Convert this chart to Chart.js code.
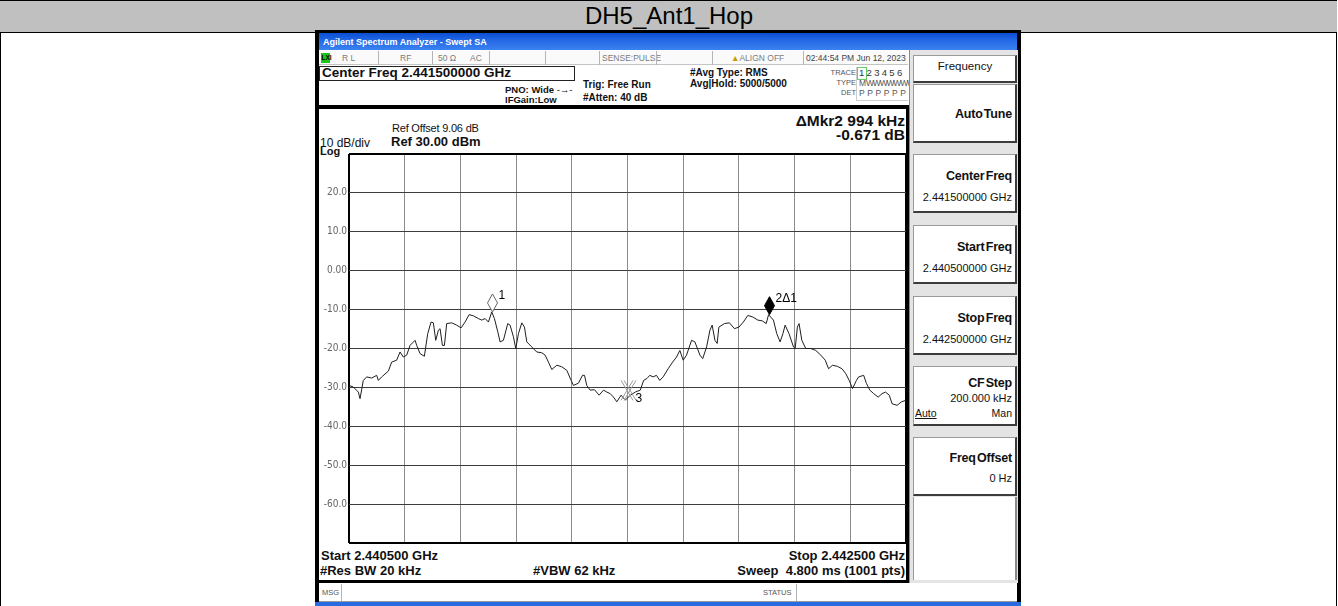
<!DOCTYPE html>
<html><head><meta charset="utf-8">
<script src="https://cdn.jsdelivr.net/npm/chart.js@4.4.1/dist/chart.umd.min.js"></script>
<style>
html,body{margin:0;padding:0;background:#fff;width:1338px;height:606px;overflow:hidden;font-family:"Liberation Sans",Arial,sans-serif;color:#111;}
.t{position:absolute;white-space:nowrap;line-height:1;}
.b{font-weight:bold;}
.r{position:absolute;}
.sk{position:absolute;left:913px;width:101px;background:#fff;border-top:1px solid #9a9a9a;border-left:1px solid #9a9a9a;border-right:2px solid #3c3c3c;border-bottom:2px solid #3c3c3c;}
.skt{position:absolute;right:3px;white-space:nowrap;line-height:1;font-weight:bold;font-size:12.5px;word-spacing:-2px;letter-spacing:-0.2px;}
.skv{position:absolute;right:3px;white-space:nowrap;line-height:1;font-size:11px;}
.sep{position:absolute;top:51px;width:1px;height:14px;background:#b4b4b4;}
.st{position:absolute;white-space:nowrap;line-height:1;font-size:8.5px;color:#7a7a7a;top:54px;}
</style>
</head><body>
<!-- outer table -->
<div class="r" style="left:0;top:0;width:1px;height:606px;background:#000"></div>
<div class="r" style="left:1336px;top:0;width:1px;height:606px;background:#000"></div>
<div class="r" style="left:0;top:0;width:1337px;height:31px;background:#c0c0c0;border-top:1px solid #000;border-bottom:1px solid #000"></div>
<div class="t" style="left:0;width:1338px;text-align:center;top:4px;font-size:24px;color:#000">DH5_Ant1_Hop</div>

<!-- analyzer window -->
<div class="r" style="left:315px;top:30px;width:706px;height:576px;background:#000"></div>
<div class="r" style="left:319px;top:33px;width:698px;height:17px;background:linear-gradient(#0a4fd4,#2a6ee8 55%,#3a82f0)"></div>
<div class="t b" style="left:323px;top:37.6px;font-size:9px;color:#fff">Agilent Spectrum Analyzer - Swept SA</div>
<div class="r" style="left:319px;top:50px;width:698px;height:552px;background:#fff"></div>
<div class="r" style="left:315px;top:602px;width:706px;height:4px;background:#2a6ae0"></div>

<!-- status row -->
<div class="r" style="left:319px;top:51px;width:589px;height:13px;background:#fafafa;border-bottom:1px solid #c4c4c4"></div>
<div class="r" style="left:321px;top:53px;width:9px;height:10px;background:#18c818"></div>
<div class="t" style="left:321.5px;top:55px;font-size:6.5px;font-weight:bold;color:#000">LXI</div>
<div class="st" style="left:342px">R L</div>
<div class="sep" style="left:378px"></div>
<div class="st" style="left:400px">RF</div>
<div class="sep" style="left:432px"></div>
<div class="st" style="left:438px">50 Ω</div>
<div class="st" style="left:470px">AC</div>
<div class="sep" style="left:489px"></div>
<div class="sep" style="left:545px"></div>
<div class="sep" style="left:599px"></div>
<div class="st" style="left:602px">SENSE:PULSE</div>
<div class="sep" style="left:656px"></div>
<div class="sep" style="left:712px"></div>
<div class="st" style="left:731px"><span style="color:#c89b00">▲</span>ALIGN OFF</div>
<div class="sep" style="left:803px"></div>
<div class="st" style="left:806px;color:#444">02:44:54 PM Jun 12, 2023</div>

<!-- header -->
<div class="r" style="left:319px;top:66px;width:254px;height:13px;border:1px solid #222"></div>
<div class="t b" style="left:322px;top:66.4px;font-size:13.5px">Center Freq 2.441500000 GHz</div>
<div class="t b" style="left:505px;top:85.3px;font-size:9.5px">PNO: Wide <span style="font-weight:normal">-→-</span></div>
<div class="t b" style="left:505px;top:95.3px;font-size:9.5px">IFGain:Low</div>
<div class="t b" style="left:583px;top:80.1px;font-size:10px">Trig: Free Run</div>
<div class="t b" style="left:583px;top:93.1px;font-size:10px">#Atten: 40 dB</div>
<div class="t b" style="left:690px;top:68.1px;font-size:10px">#Avg Type: RMS</div>
<div class="t b" style="left:690px;top:79.1px;font-size:10px">Avg|Hold: 5000/5000</div>
<div class="r" style="left:856px;top:67px;width:51px;height:33px;border-left:1px solid #ccc;border-bottom:1px solid #ccc"></div>
<div class="t" style="right:482px;top:69.3px;font-size:7.5px;color:#555">TRACE</div>
<div class="t" style="right:482px;top:79.3px;font-size:7.5px;color:#555">TYPE</div>
<div class="t" style="right:482px;top:89.3px;font-size:7.5px;color:#555">DET</div>
<div class="r" style="left:857px;top:67px;width:8px;height:11px;border:1px solid #6c6"></div>
<div class="t" style="left:859px;top:68.3px;font-size:9.5px;color:#333;letter-spacing:2.3px">123456</div>
<div class="t" style="left:859px;top:78.8px;font-size:8.5px;color:#555;letter-spacing:-1.2px">M&nbsp;WWWWWWWWWW</div>
<div class="t" style="left:859px;top:88.8px;font-size:8.5px;color:#555;letter-spacing:2.6px">PPPPPP</div>

<!-- display frame -->
<div class="r" style="left:319px;top:105px;width:590px;height:4px;background:#000"></div>
<div class="r" style="left:906px;top:105px;width:3px;height:478px;background:#000"></div>
<div class="r" style="left:319px;top:580px;width:590px;height:3px;background:#000"></div>

<div class="t" style="left:392px;top:122.6px;font-size:11px;letter-spacing:-0.2px">Ref Offset 9.06 dB</div>
<div class="t b" style="left:391px;top:135.1px;font-size:13px">Ref 30.00 dBm</div>
<div class="t" style="left:320px;top:136.6px;font-size:12px">10 dB/div</div>
<div class="t b" style="left:320px;top:145.6px;font-size:11px">Log</div>
<div class="t b" style="right:433px;top:112.5px;font-size:15.5px">ΔMkr2 994 kHz</div>
<div class="t b" style="right:433px;top:127px;font-size:15.5px">-0.671 dB</div>

<canvas id="c" width="590" height="397" style="position:absolute;left:319px;top:150px;width:590px;height:397px"></canvas>

<div class="t b" style="left:321px;top:548.6px;font-size:13px">Start 2.440500 GHz</div>
<div class="t b" style="right:433px;top:548.6px;font-size:13px">Stop 2.442500 GHz</div>
<div class="t b" style="left:320px;top:563.6px;font-size:13px">#Res BW 20 kHz</div>
<div class="t b" style="left:533px;top:563.6px;font-size:13px">#VBW 62 kHz</div>
<div class="t b" style="right:433px;top:563.6px;font-size:13px">Sweep&nbsp; 4.800 ms (1001 pts)</div>

<!-- msg row -->
<div class="r" style="left:319px;top:583px;width:698px;height:18px;background:#fff;border-bottom:1px solid #9a9a9a"></div>
<div class="t" style="left:322px;top:588.5px;font-size:7.5px;color:#555">MSG</div>
<div class="r" style="left:341px;top:584px;width:1px;height:17px;background:#b4b4b4"></div>
<div class="t" style="left:763px;top:588.5px;font-size:7.5px;color:#555">STATUS</div>
<div class="r" style="left:796px;top:584px;width:1px;height:17px;background:#b4b4b4"></div>

<!-- softkey panel -->
<div class="r" style="left:909px;top:50px;width:108px;height:533px;background:#e4e4e4;border-left:1px solid #8a8a8a"></div>
<div class="sk" style="top:55px;height:25px"></div>
<div class="t" style="left:913px;width:104px;text-align:center;top:61.4px;font-size:11.5px">Frequency</div>
<div class="sk" style="top:84px;height:56px"><div class="skt" style="top:23px">Auto Tune</div></div>
<div class="sk" style="top:154px;height:56px"><div class="skt" style="top:15px">Center Freq</div><div class="skv" style="top:36.5px">2.441500000 GHz</div></div>
<div class="sk" style="top:225px;height:56px"><div class="skt" style="top:15px">Start Freq</div><div class="skv" style="top:36.5px">2.440500000 GHz</div></div>
<div class="sk" style="top:296px;height:56px"><div class="skt" style="top:15px">Stop Freq</div><div class="skv" style="top:36.5px">2.442500000 GHz</div></div>
<div class="sk" style="top:366px;height:57px"><div class="skt" style="top:10px">CF Step</div><div class="skv" style="top:25.5px">200.000 kHz</div>
  <div class="t" style="left:1px;top:40.5px;font-size:10.5px;text-decoration:underline">Auto</div><div class="skv" style="top:40.5px;font-size:10.5px">Man</div></div>
<div class="sk" style="top:437px;height:56px"><div class="skt" style="top:14px">Freq Offset</div><div class="skv" style="top:34.5px">0 Hz</div></div>
<div class="r" style="left:913px;top:497px;width:101px;height:83px;background:#fff;border-left:1px solid #9a9a9a;border-right:2px solid #8a8a8a"></div>

<script>
// ---- data ----
const traceFreqMHz = [2440.5000,2440.5156,2440.5336,2440.5396,2440.5514,2440.5634,2440.5814,2440.5994,2440.6054,2440.6174,
2440.6414,2440.6532,2440.6712,2440.6832,2440.6952,2440.7072,2440.7192,2440.7372,2440.7432,2440.7550,
2440.7706,2440.7826,2440.7946,2440.8030,2440.8114,2440.8210,2440.8270,2440.8354,2440.8426,2440.8508,
2440.8688,2440.8868,2440.9024,2440.9168,2440.9312,2440.9468,2440.9646,2440.9766,2440.9886,2441.0006,
2441.0126,2441.0222,2441.0342,2441.0426,2441.0544,2441.0700,2441.0784,2441.0904,2441.0988,2441.1084,
2441.1204,2441.1300,2441.1384,2441.1562,2441.1742,2441.1922,2441.2042,2441.2162,2441.2282,2441.2462,
2441.2640,2441.2820,2441.2976,2441.3060,2441.3240,2441.3384,2441.3456,2441.3538,2441.3658,2441.3814,
2441.3982,2441.4138,2441.4258,2441.4378,2441.4498,2441.4616,2441.4772,2441.4920,2441.5100,2441.5280,
2441.5460,2441.5580,2441.5700,2441.5800,2441.5920,2441.6040,2441.6160,2441.6280,2441.6460,2441.6620,
2441.6760,2441.6880,2441.7000,2441.7120,2441.7300,2441.7420,2441.7600,2441.7700,2441.7840,2441.7960,
2441.8040,2441.8140,2441.8220,2441.8280,2441.8480,2441.8660,2441.8840,2441.9000,2441.9160,2441.9320,
2441.9500,2441.9680,2441.9840,2441.9980,2442.0066,2442.0240,2442.0360,2442.0480,2442.0580,2442.0660,
2442.0800,2442.0960,2442.1020,2442.1100,2442.1160,2442.1260,2442.1400,2442.1580,2442.1760,2442.1940,
2442.2100,2442.2220,2442.2360,2442.2540,2442.2700,2442.2840,2442.2960,2442.3080,2442.3220,2442.3300,
2442.3480,2442.3580,2442.3700,2442.3840,2442.4000,2442.4140,2442.4260,2442.4400,2442.4500,2442.4680,
2442.4840,2442.5000];
const traceLevelDbm = [-29.5,-29.9,-31.2,-32.9,-28.2,-27.3,-27.6,-26.9,-28.2,-27.3,
-25.8,-23.5,-23.0,-20.9,-22.2,-21.7,-19.2,-17.9,-19.2,-21.3,
-22.0,-16.2,-13.2,-13.4,-17.9,-15.3,-14.9,-19.2,-19.2,-13.6,
-13.4,-14.0,-14.7,-13.2,-11.3,-11.6,-12.3,-12.7,-12.3,-13.2,
-10.6,-12.3,-15.7,-18.3,-17.9,-13.6,-14.0,-17.0,-20.0,-16.2,
-13.4,-14.5,-18.3,-19.6,-20.9,-21.1,-21.7,-23.5,-25.4,-24.3,
-24.7,-25.6,-28.2,-29.5,-28.9,-26.9,-26.9,-29.5,-30.7,-30.6,
-32.0,-30.7,-31.2,-31.6,-32.5,-33.7,-32.0,-33.3,-32.0,-31.2,
-30.7,-28.2,-27.7,-26.9,-27.3,-26.9,-28.2,-27.3,-25.2,-23.5,
-22.2,-20.5,-23.0,-21.7,-17.9,-18.3,-21.7,-22.6,-19.6,-15.3,
-14.0,-17.9,-18.7,-14.5,-13.6,-13.4,-14.9,-14.5,-13.2,-11.5,
-11.9,-12.7,-12.9,-13.6,-11.3,-12.7,-16.2,-18.3,-16.2,-14.0,
-16.2,-19.6,-20.0,-14.5,-13.6,-17.9,-20.0,-20.0,-20.5,-21.7,
-23.0,-25.2,-24.3,-24.6,-25.2,-26.5,-28.2,-30.3,-28.2,-27.3,
-26.9,-29.0,-30.7,-31.6,-32.5,-31.6,-31.2,-32.0,-34.2,-34.6,
-33.7,-33.3];
const xGridMHz = [2440.5,2440.7,2440.9,2441.1,2441.3,2441.5,2441.7,2441.9,2442.1,2442.3,2442.5];
const yTickValues = [30,20,10,0,-10,-20,-30,-40,-50,-60,-70];
const yTickLabels = ['','20.0','10.0','0.00','-10.0','-20.0','-30.0','-40.0','-50.0','-60.0',''];
const markerFreqMHz = [2441.0126, 2442.0066, 2441.5];
const markerLevelDbm = [-10.6, -11.3, -32.3];
const markerLabels = ['1', '2Δ1', '3'];

// ---- chart ----
const markerKinds = ['open', 'filled', 'cross'];
const markerPlugin = {
  id: 'markers',
  afterDatasetsDraw(chart) {
    const ctx = chart.ctx, xs = chart.scales.x, ys = chart.scales.y;
    markerFreqMHz.forEach((f, i) => {
      const px = Math.round(xs.getPixelForValue(f)) + 0.5;
      const py = ys.getPixelForValue(markerLevelDbm[i]);
      ctx.save();
      ctx.lineWidth = 1;
      const kind = markerKinds[i];
      if (kind === 'open' || kind === 'filled') {
        ctx.beginPath();
        ctx.moveTo(px, py); ctx.lineTo(px + 5, py - 9); ctx.lineTo(px, py - 18); ctx.lineTo(px - 5, py - 9); ctx.closePath();
        if (kind === 'open') { ctx.fillStyle = '#fff'; ctx.fill(); ctx.strokeStyle = '#666'; ctx.stroke(); }
        else { ctx.fillStyle = '#000'; ctx.fill(); ctx.strokeStyle = '#000'; ctx.stroke(); }
        ctx.fillStyle = '#000';
        ctx.font = '12px "Liberation Sans", Arial';
        ctx.textBaseline = 'alphabetic';
        ctx.fillText(markerLabels[i], px + 6, py - 13);
      } else {
        ctx.strokeStyle = '#9a9a9a';
        [-1.5, 1.5].forEach(d => {
          ctx.beginPath();
          ctx.moveTo(px - 6 + d, py - 16); ctx.lineTo(px + 6 + d, py + 4);
          ctx.moveTo(px + 6 + d, py - 16); ctx.lineTo(px - 6 + d, py + 4);
          ctx.stroke();
        });
        ctx.fillStyle = '#000';
        ctx.font = '12px "Liberation Sans", Arial';
        ctx.fillText(markerLabels[i], px + 7, py + 6);
      }
      ctx.restore();
    });
  }
};

new Chart(document.getElementById('c'), {
  type: 'line',
  data: {
    datasets: [{
      data: traceFreqMHz.map((f, i) => ({ x: f, y: traceLevelDbm[i] })),
      borderColor: '#1e1e1e',
      borderWidth: 1,
      pointRadius: 0,
      tension: 0,
      fill: false
    }]
  },
  options: {
    responsive: false,
    animation: false,
    devicePixelRatio: 1,
    layout: { padding: { left: 0, right: 3, top: 4, bottom: 4 } },
    plugins: { legend: { display: false }, tooltip: { enabled: false } },
    scales: {
      x: {
        type: 'linear', min: 2440.5, max: 2442.5,
        afterBuildTicks: s => { s.ticks = xGridMHz.map(v => ({ value: v })); },
        afterFit: s => { s.height = 0; s.paddingLeft = 0; s.paddingRight = 0; },
        ticks: { display: false, autoSkip: false },
        border: { display: false },
        grid: {
          drawTicks: false,
          color: c => (c.index === 0 || c.index === xGridMHz.length - 1) ? '#000' : '#8c8c8c',
          lineWidth: c => (c.index === 0 || c.index === xGridMHz.length - 1) ? 2 : 1
        }
      },
      y: {
        type: 'linear', min: -70, max: 30,
        afterBuildTicks: s => { s.ticks = yTickValues.map(v => ({ value: v })); },
        afterFit: s => { s.width = 30; s.paddingTop = 0; s.paddingBottom = 0; },
        ticks: {
          autoSkip: false, padding: 2, color: '#666',
          font: { family: '"Liberation Sans Narrow", "DejaVu Sans Condensed", Arial', size: 10 },
          callback: (v, i) => yTickLabels[i]
        },
        border: { display: false },
        grid: {
          drawTicks: false,
          color: c => (c.index === 0 || c.index === yTickValues.length - 1) ? '#000' : '#3c3c3c',
          lineWidth: c => (c.index === 0 || c.index === yTickValues.length - 1) ? 2 : 1
        }
      }
    }
  },
  plugins: [markerPlugin]
});
</script>
</body></html>
